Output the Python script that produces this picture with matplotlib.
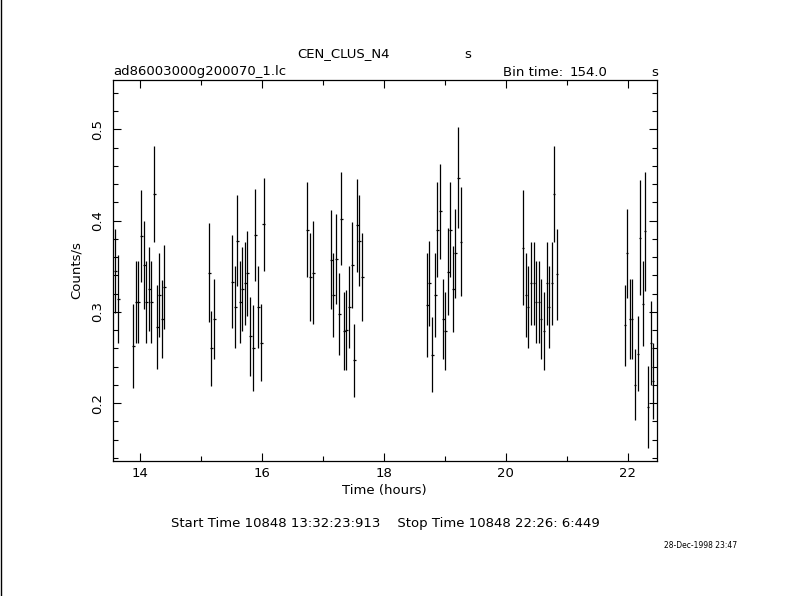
import matplotlib
matplotlib.use("Agg")
import matplotlib.pyplot as plt
from matplotlib.ticker import MultipleLocator
from matplotlib.lines import Line2D

# ---- data ----
time_hours = [
    13.541, 13.595, 13.644, 13.890, 13.939, 13.972, 14.021, 14.070, 14.103, 14.152, 14.185, 14.234, 14.284, 14.316, 14.366, 14.398,
    15.136, 15.169, 15.218, 15.513, 15.562, 15.595, 15.644, 15.677, 15.726, 15.759, 15.808, 15.857, 15.890, 15.939, 15.989, 16.028,
    16.743, 16.792, 16.841, 17.136, 17.169, 17.218, 17.267, 17.300, 17.349, 17.382, 17.431, 17.480, 17.513, 17.562, 17.595, 17.644,
    18.710, 18.743, 18.792, 18.841, 18.874, 18.923, 18.972, 19.005, 19.054, 19.087, 19.136, 19.169, 19.218, 19.267,
    20.284, 20.333, 20.366, 20.415, 20.464, 20.497, 20.546, 20.579, 20.628, 20.677, 20.710, 20.759, 20.792, 20.841,
    21.956, 21.989, 22.038, 22.070, 22.120, 22.169, 22.202, 22.251, 22.284, 22.333, 22.382, 22.415,
]
counts = [
    0.295, 0.345, 0.314, 0.262, 0.311, 0.311, 0.383, 0.351, 0.311, 0.325, 0.311, 0.429, 0.283, 0.318, 0.292, 0.327,
    0.343, 0.260, 0.292, 0.333, 0.305, 0.378, 0.311, 0.325, 0.331, 0.342, 0.273, 0.260, 0.384, 0.305, 0.266, 0.396,
    0.390, 0.338, 0.343, 0.357, 0.318, 0.358, 0.298, 0.402, 0.279, 0.280, 0.305, 0.351, 0.247, 0.395, 0.378, 0.338,
    0.307, 0.331, 0.253, 0.318, 0.390, 0.410, 0.292, 0.279, 0.344, 0.390, 0.325, 0.364, 0.447, 0.377,
    0.370, 0.318, 0.305, 0.331, 0.331, 0.311, 0.311, 0.292, 0.279, 0.331, 0.305, 0.331, 0.429, 0.341,
    0.285, 0.364, 0.292, 0.292, 0.220, 0.254, 0.381, 0.309, 0.388, 0.196, 0.266, 0.224,
]
count_err = [
    0.043, 0.046, 0.048, 0.046, 0.045, 0.045, 0.050, 0.048, 0.045, 0.046, 0.045, 0.053, 0.046, 0.046, 0.043, 0.046,
    0.054, 0.041, 0.044, 0.051, 0.045, 0.050, 0.045, 0.046, 0.046, 0.047, 0.043, 0.047, 0.050, 0.045, 0.042, 0.051,
    0.052, 0.048, 0.056, 0.054, 0.046, 0.049, 0.045, 0.051, 0.043, 0.044, 0.045, 0.047, 0.040, 0.051, 0.050, 0.048,
    0.057, 0.047, 0.041, 0.046, 0.052, 0.052, 0.044, 0.043, 0.048, 0.052, 0.047, 0.049, 0.055, 0.060,
    0.063, 0.046, 0.045, 0.046, 0.046, 0.045, 0.045, 0.044, 0.043, 0.046, 0.045, 0.046, 0.053, 0.050,
    0.044, 0.049, 0.044, 0.044, 0.039, 0.041, 0.063, 0.047, 0.065, 0.045, 0.046, 0.042,
]
bin_time_s = 154.0
half_bin_hours = bin_time_s / 2 / 3600.0

x_limits = [13.55, 22.475]
y_limits = [0.1365, 0.554]

# ---- figure ----
fig = plt.figure(figsize=(7.9, 5.96), dpi=100)
fig.patch.set_facecolor("white")
ax = fig.add_axes([0.1427, 0.2265, 0.8313 - 0.1427, 0.8658 - 0.2265])

ax.errorbar(time_hours, counts, yerr=count_err, xerr=half_bin_hours,
            fmt="none", ecolor="black", elinewidth=0.9, capsize=0)

ax.set_xlim(*x_limits)
ax.set_ylim(*y_limits)

ax.xaxis.set_major_locator(MultipleLocator(2))
ax.xaxis.set_minor_locator(MultipleLocator(1))
ax.yaxis.set_major_locator(MultipleLocator(0.1))
ax.yaxis.set_minor_locator(MultipleLocator(0.02))
ax.tick_params(which="both", direction="in", top=True, right=True,
               width=0.8, colors="black", labelsize=9.5)
ax.tick_params(which="major", length=6)
ax.tick_params(which="minor", length=3.5)
ax.tick_params(axis="x", which="major", pad=4)
ax.tick_params(axis="y", which="major", pad=6)
for lab in ax.get_yticklabels():
    lab.set_rotation(90)
    lab.set_va("center")
for sp in ax.spines.values():
    sp.set_linewidth(0.9)

ax.set_xlabel("Time (hours)", fontsize=9.5, labelpad=3)
ax.set_ylabel("Counts/s", fontsize=9.5, labelpad=6)

# header texts
fig.text(343 / 790, 1 - 54 / 596, "CEN_CLUS_N4", ha="center", va="center", fontsize=9.5)
fig.text(468 / 790, 1 - 54 / 596, "s", ha="center", va="center", fontsize=9.5)
fig.text(113 / 790, 1 - 72 / 596, "ad86003000g200070_1.lc", ha="left", va="center", fontsize=9.5)
fig.text(503 / 790, 1 - 72 / 596, "Bin time:", ha="left", va="center", fontsize=9.5)
fig.text(607 / 790, 1 - 72 / 596, "154.0", ha="right", va="center", fontsize=9.5)
fig.text(655 / 790, 1 - 72 / 596, "s", ha="center", va="center", fontsize=9.5)

fig.text(385 / 790, 1 - 524 / 596,
         "Start Time 10848 13:32:23:913    Stop Time 10848 22:26: 6:449",
         ha="center", va="center", fontsize=9.5)
fig.text(737 / 790, 1 - 546 / 596, "28-Dec-1998 23:47", ha="right", va="center", fontsize=5.5)

# left border line of the page
fig.add_artist(Line2D([0.001, 0.001], [0, 1], transform=fig.transFigure, color="black", lw=1))

fig.savefig("out.png", dpi=100, facecolor="white")
